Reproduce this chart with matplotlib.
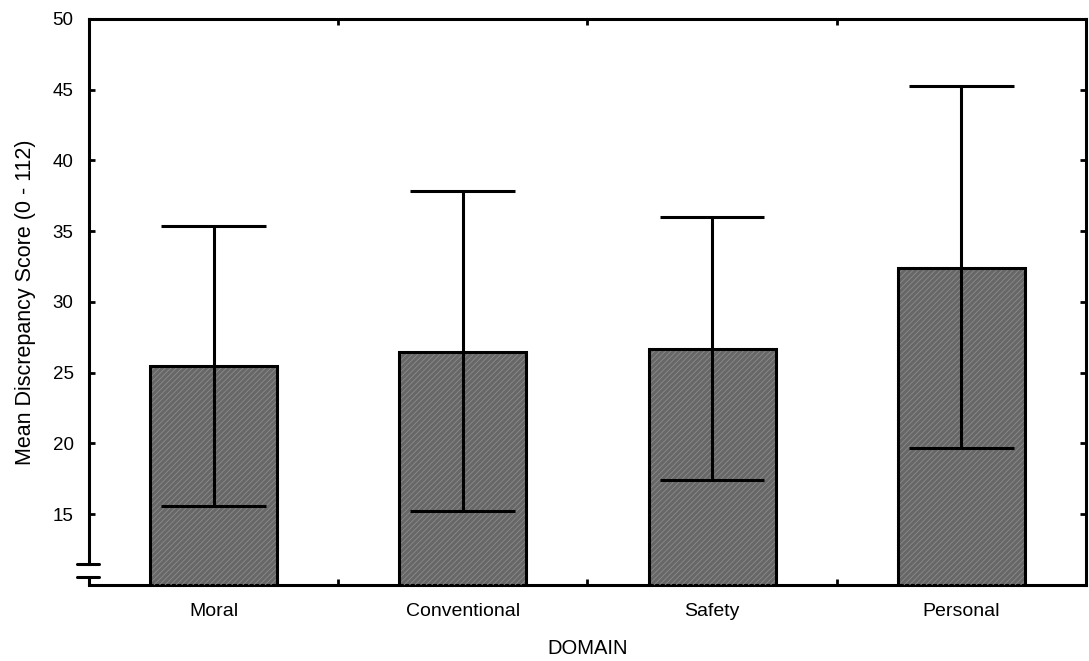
import matplotlib
matplotlib.use("Agg")
import matplotlib.pyplot as plt
from matplotlib.lines import Line2D
import numpy as np

# Mean discrepancy scores by domain, with +/- 1 SD
domains = ["Moral", "Conventional", "Safety", "Personal"]
means = [25.5, 26.5, 26.7, 32.4]
sd_upper = [35.35, 37.85, 36.0, 45.25]
sd_lower = [15.6, 15.25, 17.4, 19.65]
y_ticks = [15, 20, 25, 30, 35, 40, 45, 50]

plt.rcParams["font.family"] = ["Liberation Sans", "DejaVu Sans"]
plt.rcParams["hatch.linewidth"] = 0.6
plt.rcParams["hatch.color"] = "#8c8c8c"

fig = plt.figure(figsize=(10.89, 6.61), dpi=100)
ax = fig.add_axes([0.0817, 0.115, 0.9155, 0.8563])

x = np.arange(len(domains))
bar_w = 0.51
cap_half = 0.21
lw = 2.2

# textured grey bars
ax.bar(x, means, width=bar_w, bottom=0, color="#676767", edgecolor="none",
       zorder=2)
ax.bar(x, means, width=bar_w, bottom=0, facecolor="none", edgecolor="#8c8c8c",
       hatch="//////", linewidth=0, zorder=3)
ax.bar(x, means, width=bar_w, bottom=0, facecolor="none", edgecolor="black",
       linewidth=lw, zorder=4)

# SD whiskers with wide caps
ax.vlines(x, sd_lower, sd_upper, colors="black", linewidth=lw, zorder=5)
ax.hlines(sd_upper, x - cap_half, x + cap_half, colors="black",
          linewidth=lw, zorder=5)
ax.hlines(sd_lower, x - cap_half, x + cap_half, colors="black",
          linewidth=lw, zorder=5)

ax.set_xlim(-0.5, len(domains) - 0.5)
ax.set_ylim(10, 50)

ax.set_yticks(y_ticks)
ax.set_yticklabels([str(t) for t in y_ticks], fontsize=13.5)
ax.set_xticks(x)
ax.set_xticklabels(domains, fontsize=14)
ax.set_xticks(np.arange(0.5, len(domains) - 1, 1.0), minor=True)

ax.tick_params(axis="y", which="major", direction="in", length=4, width=2,
               left=True, right=True, pad=11)
ax.tick_params(axis="x", which="major", length=0, pad=13)
ax.tick_params(axis="x", which="minor", direction="in", length=4, width=2,
               top=True, bottom=True)

for side in ["top", "bottom", "left", "right"]:
    ax.spines[side].set_linewidth(lw)

# axis break on the left spine
brk_hi, brk_lo = 11.45, 10.55
ax.spines["left"].set_bounds(brk_hi, 50)
yt = ax.get_yaxis_transform()
ax.add_line(Line2D([0, 0], [10, brk_lo], transform=yt, color="black",
                   linewidth=lw, clip_on=False, solid_capstyle="butt"))
for yb in (brk_hi, brk_lo):
    ax.add_line(Line2D([-0.012, 0.010], [yb, yb], transform=yt, color="black",
                       linewidth=lw, clip_on=False, solid_capstyle="round"))

ax.set_ylabel("Mean Discrepancy Score (0 - 112)", fontsize=15.5, labelpad=12)
ax.set_xlabel("DOMAIN", fontsize=14.5, labelpad=14)

fig.savefig("out.png", dpi=100)
